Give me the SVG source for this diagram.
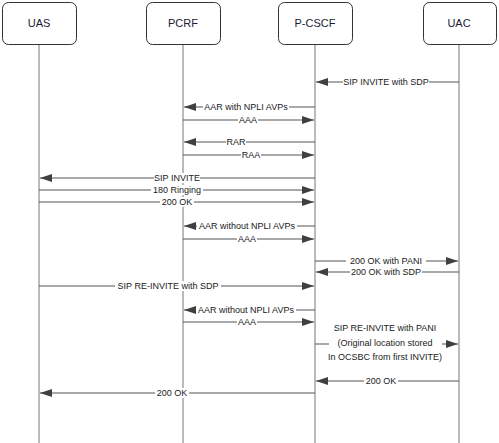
<svg xmlns="http://www.w3.org/2000/svg" width="499" height="443" viewBox="0 0 499 443">
<defs>
<marker id="ah" markerWidth="12" markerHeight="8" refX="12" refY="4" orient="auto" markerUnits="userSpaceOnUse">
<path d="M0,0 L12,4 L0,8 Z" fill="#404040"/>
</marker>
<style>
.box{fill:#fff;stroke:#333;stroke-width:1}
.life{stroke:#8c8c8c;stroke-width:1.2}
.msg{stroke:#555;stroke-width:1.2;fill:none;marker-end:url(#ah)}
.nt{font-family:"Liberation Sans",Arial,sans-serif;font-size:11px;fill:#1a1a33;text-anchor:middle}
.lb{font-family:"Liberation Sans",Arial,sans-serif;font-size:9px;fill:#1a1a1a;text-anchor:middle}
.bg{fill:#fff}
</style>
</defs>
<rect width="499" height="443" fill="#fff"/>
<g id="lifelines">
<line class="life" x1="39" y1="45" x2="39" y2="443"/>
<line class="life" x1="183" y1="45" x2="183" y2="443"/>
<line class="life" x1="315" y1="45" x2="315" y2="443"/>
<line class="life" x1="459" y1="45" x2="459" y2="443"/>
</g>
<g id="UAS"><rect class="box" x="2.5" y="2.5" width="74" height="42" rx="6"/><text class="nt" x="39" y="27">UAS</text></g>
<g id="PCRF"><rect class="box" x="146.5" y="2.5" width="74" height="42" rx="6"/><text class="nt" x="183" y="27">PCRF</text></g>
<g id="P-CSCF"><rect class="box" x="278.5" y="2.5" width="74" height="42" rx="6"/><text class="nt" x="315" y="27">P-CSCF</text></g>
<g id="UAC"><rect class="box" x="423.5" y="2.5" width="73" height="42" rx="6"/><text class="nt" x="459" y="27">UAC</text></g>
<g id="connectors">
<line class="msg" x1="459" y1="82" x2="316" y2="82"/>
<rect class="bg" x="343" y="77" width="86" height="10"/><text class="lb" x="386" y="85">SIP INVITE with SDP</text>
<line class="msg" x1="315" y1="107" x2="184" y2="107"/>
<rect class="bg" x="203" y="102" width="86" height="10"/><text class="lb" x="246" y="110">AAR with NPLI AVPs</text>
<line class="msg" x1="183" y1="120" x2="314" y2="120"/>
<rect class="bg" x="238" y="115" width="20" height="10"/><text class="lb" x="248" y="123">AAA</text>
<line class="msg" x1="315" y1="142" x2="184" y2="142"/>
<rect class="bg" x="226" y="137" width="20" height="10"/><text class="lb" x="236" y="145">RAR</text>
<line class="msg" x1="183" y1="155" x2="314" y2="155"/>
<rect class="bg" x="241" y="150" width="20" height="10"/><text class="lb" x="251" y="158">RAA</text>
<line class="msg" x1="315" y1="178" x2="40" y2="178"/>
<rect class="bg" x="154" y="173" width="46" height="10"/><text class="lb" x="177" y="181">SIP INVITE</text>
<line class="msg" x1="39" y1="190" x2="314" y2="190"/>
<rect class="bg" x="151" y="185" width="52" height="10"/><text class="lb" x="177" y="193">180 Ringing</text>
<line class="msg" x1="39" y1="202" x2="314" y2="202"/>
<rect class="bg" x="160" y="197" width="34" height="10"/><text class="lb" x="177" y="205">200 OK</text>
<line class="msg" x1="315" y1="226" x2="184" y2="226"/>
<rect class="bg" x="197" y="221" width="100" height="10"/><text class="lb" x="247" y="229">AAR without NPLI AVPs</text>
<line class="msg" x1="183" y1="239" x2="314" y2="239"/>
<rect class="bg" x="237" y="234" width="20" height="10"/><text class="lb" x="247" y="242">AAA</text>
<line class="msg" x1="315" y1="261" x2="458" y2="261"/>
<rect class="bg" x="346" y="256" width="80" height="10"/><text class="lb" x="386" y="264">200 OK with PANI</text>
<line class="msg" x1="459" y1="272" x2="316" y2="272"/>
<rect class="bg" x="350" y="267" width="72" height="10"/><text class="lb" x="386" y="275">200 OK with SDP</text>
<line class="msg" x1="39" y1="286" x2="314" y2="286"/>
<rect class="bg" x="115" y="281" width="106" height="10"/><text class="lb" x="168" y="289">SIP RE-INVITE with SDP</text>
<line class="msg" x1="315" y1="310" x2="184" y2="310"/>
<rect class="bg" x="196" y="305" width="100" height="10"/><text class="lb" x="246" y="313">AAR without NPLI AVPs</text>
<line class="msg" x1="183" y1="322" x2="314" y2="322"/>
<rect class="bg" x="237" y="317" width="20" height="10"/><text class="lb" x="247" y="325">AAA</text>
<line class="msg" x1="315" y1="344" x2="458" y2="344"/>
<rect class="bg" x="329" y="323" width="113" height="31"/>
<text class="lb" x="385" y="331">SIP RE-INVITE with PANI</text>
<text class="lb" x="385" y="346">(Original location stored</text>
<text class="lb" x="385" y="360">In OCSBC from first INVITE)</text>
<line class="msg" x1="459" y1="381" x2="316" y2="381"/>
<rect class="bg" x="364" y="376" width="34" height="10"/><text class="lb" x="381" y="384">200 OK</text>
<line class="msg" x1="315" y1="393" x2="40" y2="393"/>
<rect class="bg" x="155" y="388" width="34" height="10"/><text class="lb" x="172" y="396">200 OK</text>
</g>
</svg>
